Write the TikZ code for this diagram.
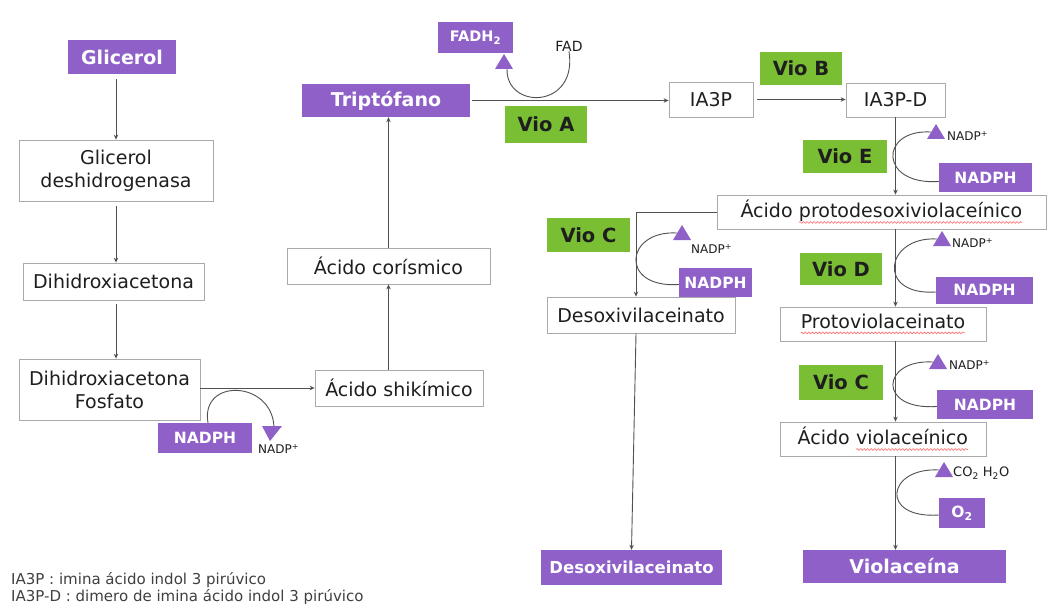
\documentclass[tikz,border=0pt]{standalone}
\usepackage{fontspec}
\setmainfont{DejaVu Sans}
\usetikzlibrary{arrows.meta,calc,decorations.pathmorphing}
\definecolor{vpurple}{RGB}{142,96,200}
\definecolor{vgreen}{RGB}{122,190,52}
\definecolor{lnc}{RGB}{80,80,80}
\definecolor{bdc}{RGB}{170,170,170}
\definecolor{txc}{RGB}{30,30,30}
\newcommand{\redwave}[1]{\tikz[baseline=(wv.base)]{\node[inner sep=0pt,outer sep=0pt,minimum width=0pt,minimum height=0pt,draw=none,fill=none] (wv) {#1};
  \draw[red!55,line width=0.6pt,decorate,decoration={snake,amplitude=0.9pt,segment length=3.5pt}] ([yshift=-4.5pt]wv.base west) -- ([yshift=-4.5pt]wv.base east);}}
\newcommand{\uptri}[1]{\fill[vpurple] (#1) -- ++(-9,15) -- ++(18,0) -- cycle;}
\newcommand{\dntri}[1]{\fill[vpurple] (#1) -- ++(-8,-15) -- ++(20,0) -- cycle;}
\begin{document}
\begin{tikzpicture}[x=1pt,y=-1pt,
 wbox/.style={draw=bdc,line width=0.8pt,fill=white,inner sep=0pt,align=center,text=txc,font=\fontsize{19}{23}\selectfont},
 pbox/.style={fill=vpurple,inner sep=0pt,text=white,font=\bfseries\fontsize{19}{22}\selectfont},
 pbsm/.style={pbox,font=\bfseries\fontsize{15.5}{18}\selectfont},
 gbox/.style={fill=vgreen,inner sep=0pt,text=txc,font=\bfseries\fontsize{19.5}{22}\selectfont},
 conn/.style={draw=lnc,line width=0.9pt,-{Stealth[length=5pt,width=4.5pt]}},
 cyc/.style={draw=lnc,line width=0.9pt},
 small/.style={inner sep=0pt,text=txc,font=\fontsize{12}{14}\selectfont},
 fnote/.style={inner sep=0pt,text=txc!85,font=\fontsize{15}{18}\selectfont},
]
\useasboundingbox[fill=white] (0,0) rectangle (1048,604);

% left column
\node[pbox,minimum width=108pt,minimum height=34pt] (glic) at (122,57) {Glicerol};
\node[wbox,minimum width=194pt,minimum height=61pt] (gd) at (116,170.5) {Glicerol\\deshidrogenasa};
\node[wbox,minimum width=181pt,minimum height=37pt] (dha) at (113.5,281.5) {Dihidroxiacetona};
\node[wbox,minimum width=181pt,minimum height=61pt] (dhap) at (109.5,389.5) {Dihidroxiacetona\\Fosfato};
\node[pbsm,minimum width=94pt,minimum height=30pt] (nadphA) at (205,438) {NADPH};
\node[small,anchor=west] (nadpA) at (258,449) {NADP\textsuperscript{+}};

% middle column
\node[wbox,minimum width=168pt,minimum height=36pt] (shik) at (399,388) {Ácido shikímico};
\node[wbox,minimum width=203pt,minimum height=36pt] (cor) at (388.5,266) {Ácido corísmico};
\node[pbox,minimum width=168pt,minimum height=33pt] (trp) at (386,100.5) {Triptófano};
\node[pbsm,font=\bfseries\fontsize{14.5}{17}\selectfont,minimum width=75pt,minimum height=31pt] (fadh) at (475.5,37.5) {FADH\textsubscript{2}};
\node[small,font=\fontsize{14}{16}\selectfont] (fad) at (569,46) {FAD};
\node[gbox,minimum width=82pt,minimum height=37pt] (vioA) at (546,124.5) {Vio A};

% top right
\node[wbox,minimum width=84pt,minimum height=35pt] (ia3p) at (711,99.5) {IA3P};
\node[gbox,minimum width=82pt,minimum height=33pt] (vioB) at (801,68.5) {Vio B};
\node[wbox,minimum width=99pt,minimum height=34pt] (ia3pd) at (895.5,100) {IA3P-D};
\node[gbox,minimum width=84pt,minimum height=33pt] (vioE) at (845,156.5) {Vio E};
\node[pbsm,minimum width=93pt,minimum height=29pt] (nadphE) at (985.5,177.5) {NADPH};
\node[small,anchor=west] (nadpE) at (947,136) {NADP\textsuperscript{+}};
\node[wbox,minimum width=329pt,minimum height=34pt] (apd) at (881.5,212) {Ácido \redwave{protodesoxiviolaceínico}};

% branch
\node[gbox,minimum width=83pt,minimum height=34pt] (vioCl) at (588.5,235) {Vio C};
\node[pbsm,minimum width=73pt,minimum height=29pt] (nadphCl) at (715.5,282.5) {NADPH};
\node[small,anchor=west] (nadpCl) at (691,249) {NADP\textsuperscript{+}};
\node[wbox,minimum width=188pt,minimum height=36pt] (desox) at (641,315) {Desoxivilaceinato};
\node[pbox,font=\bfseries\fontsize{16.5}{20}\selectfont,minimum width=181pt,minimum height=35pt] (desoxP) at (631.5,567.5) {Desoxivilaceinato};

% right column
\node[gbox,minimum width=82pt,minimum height=32pt] (vioD) at (841,269) {Vio D};
\node[pbsm,minimum width=97pt,minimum height=27pt] (nadphD) at (984.5,290) {NADPH};
\node[small,anchor=west] (nadpD) at (952,243) {NADP\textsuperscript{+}};
\node[wbox,minimum width=206pt,minimum height=34pt] (proto) at (883,324) {\redwave{Protoviolaceinato}};
\node[gbox,minimum width=84pt,minimum height=35pt] (vioCr) at (841,382.5) {Vio C};
\node[pbsm,minimum width=96pt,minimum height=29pt] (nadphCr) at (985,404.5) {NADPH};
\node[small,anchor=west] (nadpCr) at (949,365) {NADP\textsuperscript{+}};
\node[wbox,minimum width=206pt,minimum height=34pt] (avio) at (883,439) {Ácido \redwave{violaceínico}};
\node[small,font=\fontsize{13}{15}\selectfont,anchor=west] (co2) at (953,473) {CO\textsubscript{2} H\textsubscript{2}O};
\node[pbsm,minimum width=46pt,minimum height=30pt] (o2) at (962,513) {O\textsubscript{2}};
\node[pbox,minimum width=203pt,minimum height=33pt] (viol) at (904.5,566.5) {Violaceína};

% footnotes
\node[fnote,anchor=base west] (fn1) at (11,584) {IA3P : imina ácido indol 3 pirúvico};
\node[fnote,anchor=base west] (fn2) at (11,601) {IA3P-D : dimero de imina ácido indol 3 pirúvico};

% triangle apexes and loop ends
\coordinate (tA) at (270,441);
\coordinate (eA) at (274,427);
\coordinate (tF) at (504,54);
\coordinate (eF) at (507,69);
\coordinate (tE) at (936,124);
\coordinate (eE) at (931,132);
\coordinate (tCl) at (682,225);
\coordinate (eCl) at (677,233);
\coordinate (tD) at (942,231);
\coordinate (eD) at (937,239);
\coordinate (tCr) at (938,354);
\coordinate (eCr) at (933,362);
\coordinate (tO) at (944,462);
\coordinate (eO) at (939,470);
\coordinate (br) at (636,212);

% connectors
\draw[conn,shorten <=5pt] (glic.south -| gd.north) -- (gd.north);
\draw[conn,shorten <=5pt] (gd.south) -- (gd.south |- dha.north);
\draw[conn,shorten <=4pt] (dha.south -| gd.south) -- (gd.south |- dhap.north);
\draw[conn] (dhap.east |- shik.west) -- (shik.west);
\draw[conn] (shik.north -| cor.south) -- (cor.south);
\draw[conn] (cor.north) -- (cor.north |- trp.south);
\draw[conn,shorten <=2pt] (trp.east) -- (trp.east -| ia3p.west);
\draw[conn,shorten <=4pt] (ia3p.east) -- (ia3p.east -| ia3pd.west);
\draw[conn] (ia3pd.south) -- (ia3pd.south |- apd.north);
\draw[conn] (apd.south -| ia3pd.south) -- (proto.north -| ia3pd.south);
\draw[conn] (proto.south -| ia3pd.south) -- (avio.north -| ia3pd.south);
\draw[conn] (avio.south -| ia3pd.south) -- (viol.north -| ia3pd.south);
\draw[conn] (apd.west) -- (br) -- (br |- desox.north);
\draw[conn] (desox.south -| br) -- (desoxP.north);

% cofactor loops
\draw[cyc] ([xshift=3pt]nadphA.north) .. controls +(-8,-45) and +(-2,-47) .. (eA);
\dntri{tA}
\draw[cyc] (fad.south) .. controls +(9,58) and +(-1,41) .. (eF);
\uptri{tF}
\draw[cyc] ([yshift=-4pt]nadphE.west) .. controls +(-60,4) and +(-52,-3) .. (eE);
\uptri{tE}
\draw[cyc] ([yshift=-2pt]nadphCl.west) .. controls +(-60,4) and +(-52,-3) .. (eCl);
\uptri{tCl}
\draw[cyc] ([yshift=-2pt]nadphD.west) .. controls +(-60,4) and +(-52,-3) .. (eD);
\uptri{tD}
\draw[cyc] ([yshift=-2pt]nadphCr.west) .. controls +(-60,4) and +(-52,-3) .. (eCr);
\uptri{tCr}
\draw[cyc] ([yshift=-2pt]o2.west) .. controls +(-60,4) and +(-52,-3) .. (eO);
\uptri{tO}
\end{tikzpicture}
\end{document}
